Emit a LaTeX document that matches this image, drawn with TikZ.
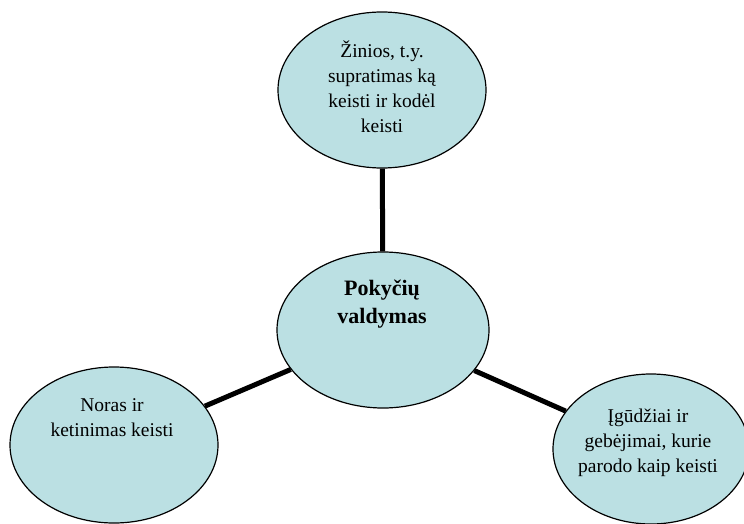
\documentclass[tikz,border=0pt]{standalone}
\usepackage{fontspec}
\setmainfont{Liberation Serif}
\usetikzlibrary{shapes.geometric,backgrounds}
\definecolor{bubblefill}{HTML}{BBE0E3}
\begin{document}
\begin{tikzpicture}[x=1pt,y=-1pt,
  bubble/.style={ellipse, draw=black, line width=1.2pt, fill=bubblefill, inner sep=0pt,
                 minimum width=208pt, minimum height=156pt},
  link/.style={line width=5pt},
  txt/.style={align=center, font=\fontsize{19.5}{25}\selectfont, inner sep=0pt},
  bold/.style={align=center, font=\fontsize{22}{28}\selectfont\bfseries, inner sep=0pt}]
\useasboundingbox (0,0) rectangle (744,524);
\node[bubble] (top) at (382,90) {};
\node[bubble, minimum width=212pt] (mid) at (383,330) {};
\node[bubble] (left) at (114,445) {};
\node[bubble, minimum width=196pt, minimum height=150pt] (right) at (651,449) {};
\begin{scope}[on background layer]
\draw[link] (mid) -- (top);
\draw[link] (mid) -- (left);
\draw[link] (mid) -- (right);
\end{scope}
\node[txt] (toptext) at (382,87) {Žinios, t.y.\\supratimas ką\\keisti ir kodėl\\keisti};
\node[bold] (midtext) at (382,304) {Pokyčių\\valdymas};
\node[txt] (lefttext) at (112,418) {Noras ir\\ketinimas keisti};
\node[txt] (righttext) at (648,443) {Įgūdžiai ir\\gebėjimai, kurie\\parodo kaip keisti};
\end{tikzpicture}
\end{document}
